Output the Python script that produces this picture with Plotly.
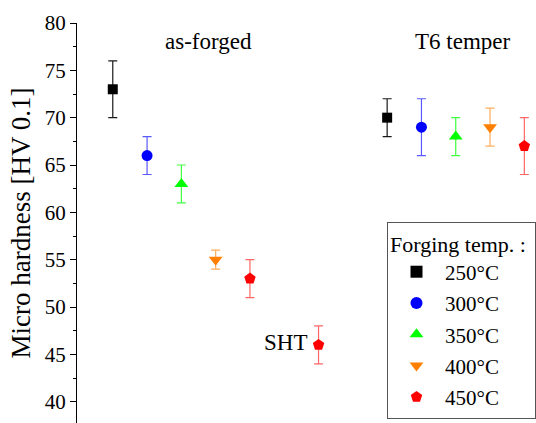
import plotly.graph_objects as go

# Data
temps = ["250°C", "300°C", "350°C", "400°C", "450°C"]
colors = ["#000000", "#0000ff", "#00ff00", "#ff8000", "#ff0000"]
err_colors = ["rgba(0,0,0,0.9)", "rgba(0,0,255,0.65)", "rgba(0,255,0,0.75)",
              "rgba(255,128,0,0.65)", "rgba(255,0,0,0.6)"]
symbols = ["square", "circle", "triangle-up", "triangle-down", "pentagon"]
sizes = [10, 11, 12, 12, 12]

# positions: as-forged 1..5, SHT 7, T6 9..13
x_pos = [[1, 9], [2, 10], [3, 11], [4, 12], [5, 7, 13]]
hardness = [[73, 70], [66, 69], [63, 68], [55, 69], [53, 46, 67]]
err_plus = [[3, 2], [2, 3], [2, 2], [1, 2], [2, 2, 3]]
err_minus = [[3, 2], [2, 3], [2, 2], [1, 2], [2, 2, 3]]

y_ticks = [40, 45, 50, 55, 60, 65, 70, 75, 80]

FONT = "Liberation Serif"

fig = go.Figure()
for i, t in enumerate(temps):
    fig.add_trace(go.Scatter(
        x=x_pos[i], y=hardness[i], mode="markers", name=t,
        legendgroup=t,
        marker=dict(symbol=symbols[i], color=colors[i], size=sizes[i], line=dict(width=0)),
        error_y=dict(type="data", symmetric=False, array=err_plus[i], arrayminus=err_minus[i],
                     color=err_colors[i], thickness=1.2, width=4.5),
    ))

fig.add_annotation(x=3.79, y=78, text="as-forged", showarrow=False,
                   font=dict(family=FONT, size=23, color="black"))
fig.add_annotation(x=11.2, y=78, text="T6 temper", showarrow=False,
                   font=dict(family=FONT, size=23, color="black"))
fig.add_annotation(x=6.03, y=46.3, text="SHT", showarrow=False,
                   font=dict(family=FONT, size=23, color="black"))

fig.update_layout(
    width=536, height=423,
    margin=dict(l=76.5, r=0, t=22.5, b=0, autoexpand=False),
    paper_bgcolor="white", plot_bgcolor="white",
    font=dict(family=FONT, size=21, color="black"),
    showlegend=True,
    legend=dict(
        x=1.0, y=0.5026, xanchor="right", yanchor="top",
        bgcolor="white", bordercolor="#555555", borderwidth=1,
        font=dict(family=FONT, size=21, color="black"),
        title=dict(text="Forging temp. :<span style='font-size:28px'>&nbsp;</span>",
                   font=dict(family=FONT, size=22)),
        tracegroupgap=1, itemsizing="constant", itemwidth=47,
    ),
    xaxis=dict(visible=False, range=[-0.043, 13.34]),
    yaxis=dict(
        range=[37.75, 80], tickvals=y_ticks, ticks="outside", ticklen=6, tickwidth=1.2,
        tickcolor="black", showline=True, linecolor="black", linewidth=1.3,
        showgrid=False, zeroline=False,
        tickfont=dict(family=FONT, size=21),
        minor=dict(dtick=2.5, tick0=0, ticks="outside", ticklen=3, tickcolor="black", showgrid=False),
        title=dict(text="Micro hardness [HV 0.1]", font=dict(family=FONT, size=27), standoff=6),
    ),
)

fig.write_html("out.html")
